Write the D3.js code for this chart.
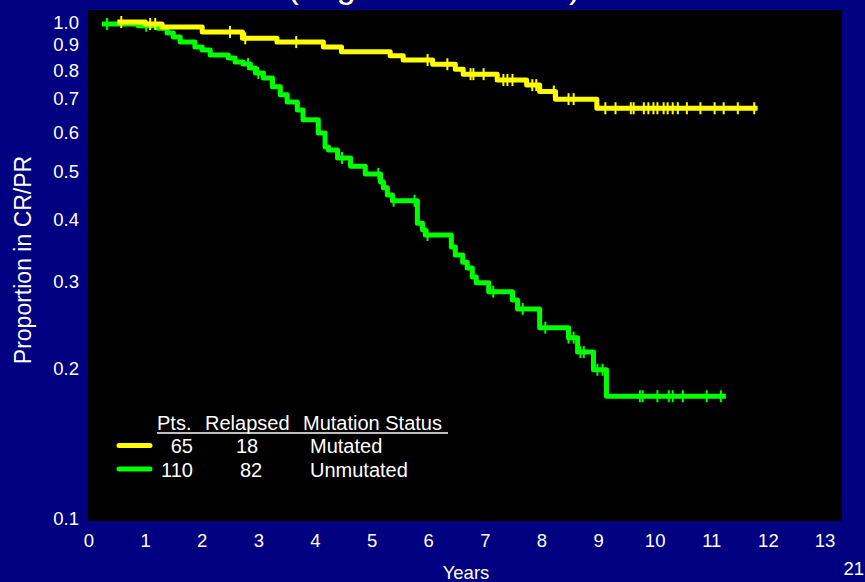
<!DOCTYPE html>
<html>
<head>
<meta charset="utf-8">
<script src="https://cdn.jsdelivr.net/npm/d3@7"></script>
<style>
  html, body { margin: 0; padding: 0; background: #000080; }
  svg { display: block; }
  text { font-family: "Liberation Sans", Arial, sans-serif; }
</style>
</head>
<body>
<svg id="chart" width="865" height="582"></svg>
<script>
// Mutated (yellow): step times (years) and proportion after each step
const mutTimes = [0.50, 0.99, 1.29, 2.00, 2.71, 3.32, 4.14, 4.46, 5.32, 5.55, 6.07, 6.47, 6.61, 7.21, 7.73, 7.96, 8.24, 8.97];
const mutSurv  = [1.000, 0.991, 0.977, 0.955, 0.927, 0.911, 0.890, 0.871, 0.855, 0.838, 0.822, 0.803, 0.785, 0.764, 0.746, 0.724, 0.699, 0.670];
const mutEnd = 11.81;
const mutCensor = [0.57, 1.08, 1.17, 2.49, 2.76, 3.66, 5.98, 6.33, 6.74, 6.79, 6.97, 7.32, 7.39, 7.48, 7.83, 7.90, 8.21,
                   8.47, 8.56, 9.12, 9.30, 9.57, 9.62, 9.80, 9.88, 9.97, 10.04, 10.15, 10.22, 10.31, 10.40, 10.56,
                   10.80, 11.05, 11.21, 11.46, 11.75];

// Unmutated (green)
const unmTimes = [0.23, 0.87, 1.22, 1.38, 1.49, 1.61, 1.87, 2.00, 2.14, 2.46, 2.58, 2.72, 2.85, 2.94, 3.08, 3.24, 3.38,
                  3.50, 3.68, 3.78, 4.05, 4.17, 4.23, 4.39, 4.62, 4.88, 5.15, 5.20, 5.27, 5.36, 5.80, 5.89, 5.94,
                  6.40, 6.47, 6.60, 6.68, 6.77, 6.84, 7.06, 7.48, 7.57, 7.96, 8.47, 8.63, 8.91, 9.14];
const unmSurv  = [0.991, 0.983, 0.971, 0.950, 0.933, 0.911, 0.890, 0.878, 0.858, 0.846, 0.831, 0.823, 0.808, 0.789, 0.771,
                  0.740, 0.713, 0.690, 0.665, 0.635, 0.597, 0.560, 0.552, 0.532, 0.512, 0.494, 0.476, 0.463, 0.448,
                  0.436, 0.393, 0.381, 0.372, 0.352, 0.339, 0.328, 0.319, 0.306, 0.298, 0.286, 0.275, 0.264, 0.242,
                  0.231, 0.216, 0.199, 0.176];
const unmEnd = 11.25;
const unmCensor = [0.32, 1.01, 2.81, 2.99, 4.47, 5.11, 5.38, 5.75, 5.98, 7.14, 7.66, 8.06, 8.47, 8.56, 8.68, 8.74,
                   8.98, 9.07, 9.73, 9.78, 10.04, 10.24, 10.31, 10.49, 10.91, 11.16];

const xTicks = d3.range(0, 14);
const yTicks = [0.1, 0.2, 0.3, 0.4, 0.5, 0.6, 0.7, 0.8, 0.9, 1.0];

const legendHeader = ["Pts.", "Relapsed", "Mutation Status"];
const legendRows = [
  {pts: "65", rel: "18", name: "Mutated", color: "#ffff00"},
  {pts: "110", rel: "82", name: "Unmutated", color: "#00ff00"}
];

const svg = d3.select("#chart");
const x = d3.scaleLinear().domain([0, 13]).range([89, 825]);
const y = d3.scaleLog().domain([0.1, 1]).range([518, 22]);

// navy slide + black plot panel
svg.append("rect").attr("width", 865).attr("height", 582).attr("fill", "#000080");
svg.append("rect").attr("x", 88).attr("y", 10).attr("width", 754).attr("height", 511).attr("fill", "#000");

// title, mostly cut off by the top of the slide (as in the original)
svg.append("text")
   .attr("x", 434).attr("y", -2)
   .attr("text-anchor", "middle")
   .attr("font-size", 34)
   .attr("fill", "#ffffcc")
   .text("(Logarithmic Scale)");

// axes labels (no lines in the original)
svg.append("g").selectAll("text")
   .data(yTicks).join("text")
   .attr("x", 79).attr("y", d => y(d))
   .attr("dy", "0.36em")
   .attr("text-anchor", "end")
   .attr("font-size", 18.5)
   .attr("fill", "#fff")
   .text(d => d3.format(".1f")(d));

svg.append("g").selectAll("text")
   .data(xTicks).join("text")
   .attr("x", d => x(d)).attr("y", 540)
   .attr("dy", "0.36em")
   .attr("text-anchor", "middle")
   .attr("font-size", 18.5)
   .attr("fill", "#fff")
   .text(d => d);

svg.append("text")
   .attr("x", 466).attr("y", 579)
   .attr("text-anchor", "middle")
   .attr("font-size", 18.5)
   .attr("fill", "#fff")
   .text("Years");

svg.append("text")
   .attr("transform", "translate(31,260) rotate(-90)")
   .attr("text-anchor", "middle")
   .attr("font-size", 23)
   .attr("fill", "#fff")
   .text("Proportion in CR/PR");

svg.append("text")
   .attr("x", 864).attr("y", 575)
   .attr("text-anchor", "end")
   .attr("font-size", 18.5)
   .attr("fill", "#fff")
   .text("21");

// step curves
function stepPoints(times, surv, end) {
  const pts = times.map((t, i) => [t, surv[i]]);
  pts.push([end, surv[surv.length - 1]]);
  return pts;
}
function survAt(times, surv, t) {
  let v = surv[0];
  times.forEach((tt, i) => { if (tt <= t) v = surv[i]; });
  return v;
}

const line = d3.line()
  .x(d => x(d[0]))
  .y(d => y(d[1]))
  .curve(d3.curveStepAfter);

const curves = [
  {times: unmTimes, surv: unmSurv, end: unmEnd, censor: unmCensor, color: "#00ff00"},
  {times: mutTimes, surv: mutSurv, end: mutEnd, censor: mutCensor, color: "#ffff00"}
];

curves.forEach(c => {
  svg.append("path")
     .attr("d", line(stepPoints(c.times, c.surv, c.end)))
     .attr("fill", "none")
     .attr("stroke", c.color)
     .attr("stroke-width", 5)
     .attr("stroke-linejoin", "round");

  svg.append("g").selectAll("line")
     .data(c.censor).join("line")
     .attr("x1", d => x(d)).attr("x2", d => x(d))
     .attr("y1", d => y(survAt(c.times, c.surv, d)) - 6)
     .attr("y2", d => y(survAt(c.times, c.surv, d)) + 6)
     .attr("stroke", c.color)
     .attr("stroke-width", 2);
});

// legend
const lg = svg.append("g");
const headX = [157, 205, 303];
lg.selectAll("text.head")
  .data(legendHeader).join("text")
  .attr("class", "head")
  .attr("x", (d, i) => headX[i]).attr("y", 430)
  .attr("font-size", 20)
  .attr("fill", "#fff")
  .text(d => d);
lg.append("line")
  .attr("x1", 157).attr("x2", 448)
  .attr("y1", 433).attr("y2", 433)
  .attr("stroke", "#fff").attr("stroke-width", 1.6);

legendRows.forEach((r, i) => {
  const yy = 453 + i * 23.5;
  lg.append("line")
    .attr("x1", 119).attr("x2", 150)
    .attr("y1", yy - 7.5).attr("y2", yy - 7.5)
    .attr("stroke", r.color).attr("stroke-width", 5)
    .attr("stroke-linecap", "round");
  lg.append("text").attr("x", 193).attr("y", yy)
    .attr("text-anchor", "end").attr("font-size", 20).attr("fill", "#fff").text(r.pts);
  lg.append("text").attr("x", i === 0 ? 236 : 240).attr("y", yy)
    .attr("font-size", 20).attr("fill", "#fff").text(r.rel);
  lg.append("text").attr("x", 310).attr("y", yy)
    .attr("font-size", 20).attr("fill", "#fff").text(r.name);
});
</script>
</body>
</html>
